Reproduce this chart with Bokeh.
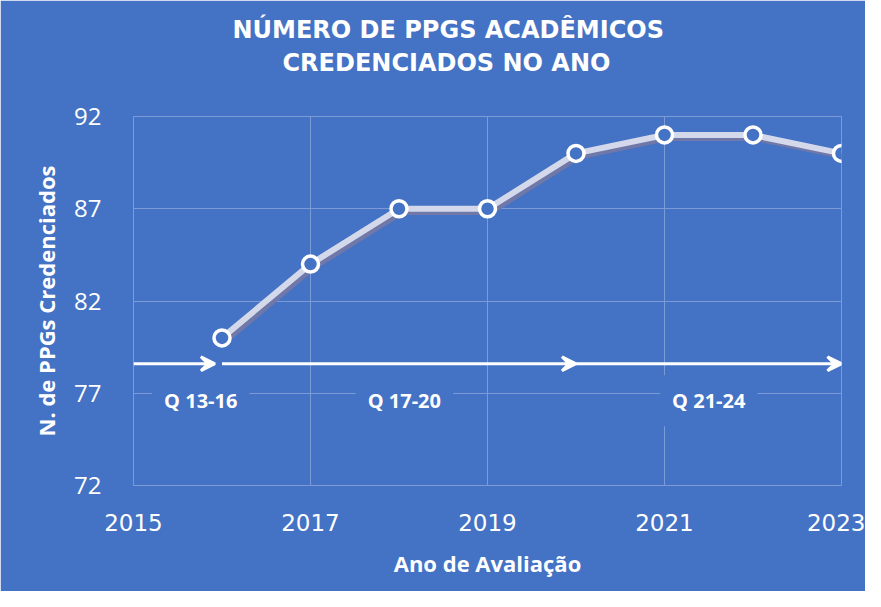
from bokeh.plotting import figure
from bokeh.models import (Range1d, FixedTicker, Arrow, VeeHead, Label, Title)
from bokeh.embed import file_html
from bokeh.resources import INLINE

# ---- data ----
years = [2016, 2017, 2018, 2019, 2020, 2021, 2022, 2023]
ppgs = [80, 84, 87, 87, 90, 91, 91, 90]
x_ticks = [2015, 2017, 2019, 2021, 2023]
y_ticks = [72, 77, 82, 87, 92]
period_names = ["Q 13-16", "Q 17-20", "Q 21-24"]
period_start = [2015, 2016, 2020]
period_end = [2015.92, 2020, 2023]
period_label_x = [2015.76, 2018.06, 2021.5]
arrow_y = 78.6
label_y = 76.6
title_lines = ["NÚMERO DE PPGS ACADÊMICOS", "CREDENCIADOS NO ANO"]

BG = "#4472C4"
GRID = "#7C9AD6"

p = figure(width=865, height=591, output_backend="svg", toolbar_location=None,
           x_range=Range1d(2015, 2023), y_range=Range1d(72, 92),
           min_border_left=133, min_border_right=24, min_border_top=116, min_border_bottom=106)
p.background_fill_color = BG
p.border_fill_color = BG
p.outline_line_color = GRID
p.outline_line_width = 1

def style_title(t, offset, standoff):
    t.align = "left"
    t.offset = offset
    t.standoff = standoff
    t.text_color = "white"
    t.text_font = "DejaVu Sans"
    t.text_font_size = "24px"
    t.text_font_style = "bold"

# top line (outermost)
p.title.text = title_lines[0]
style_title(p.title, 99, 2)
# empty spacer title closest to the frame (added first)
spacer = Title(text=" ")
style_title(spacer, 0, 8)
p.add_layout(spacer, "above")
# second line
t2 = Title(text=title_lines[1])
style_title(t2, 149, 4)
p.add_layout(t2, "above")

# axes
for ax in (p.xaxis, p.yaxis):
    ax.axis_line_color = None
    ax.major_tick_line_color = None
    ax.minor_tick_line_color = None
    ax.major_label_text_color = "white"
    ax.axis_label_text_color = "white"
    ax.axis_label_text_font = "Open Sans"
    ax.axis_label_text_font_style = "bold"
    ax.axis_label_text_font_size = "22px"

p.xaxis.ticker = FixedTicker(ticks=x_ticks)
p.yaxis.ticker = FixedTicker(ticks=y_ticks)
p.xaxis.major_label_text_font = "DejaVu Sans"
p.xaxis.major_label_text_font_size = "23px"
p.yaxis.major_label_text_font = "Open Sans"
p.yaxis.major_label_text_font_size = "24px"
p.xaxis.major_label_standoff = 22
p.yaxis.major_label_standoff = 26
p.xaxis.axis_label = "Ano de Avaliação"
p.yaxis.axis_label = "N. de PPGs Credenciados"
p.xaxis.axis_label_standoff = 14
p.yaxis.axis_label_standoff = 10

p.xgrid.grid_line_color = GRID
p.ygrid.grid_line_color = GRID

# shadow line (slightly offset) and main line
shadow_x = [x + 0.035 for x in years]
shadow_y = [y - 0.17 for y in ppgs]
p.line(shadow_x, shadow_y, line_color="#6F78A8", line_width=6)
p.line(years, ppgs, line_color="#D3D8EA", line_width=6)
p.scatter(years, ppgs, marker="circle", size=16, fill_color=BG, line_color="white", line_width=3.5)

# period arrows
for s, e in zip(period_start, period_end):
    p.add_layout(Arrow(x_start=s, y_start=arrow_y, x_end=e, y_end=arrow_y,
                       line_color="white", line_width=3,
                       end=VeeHead(size=14, line_color="white", line_width=3, fill_color="white")))

# period labels
for name, lx in zip(period_names, period_label_x):
    p.add_layout(Label(x=lx, y=label_y, text=name, text_color="white",
                       text_font="Open Sans", text_font_style="bold", text_font_size="20px",
                       text_align="center", text_baseline="middle",
                       background_fill_color=BG, padding=12))

open("out.html", "w").write(file_html(p, INLINE))
